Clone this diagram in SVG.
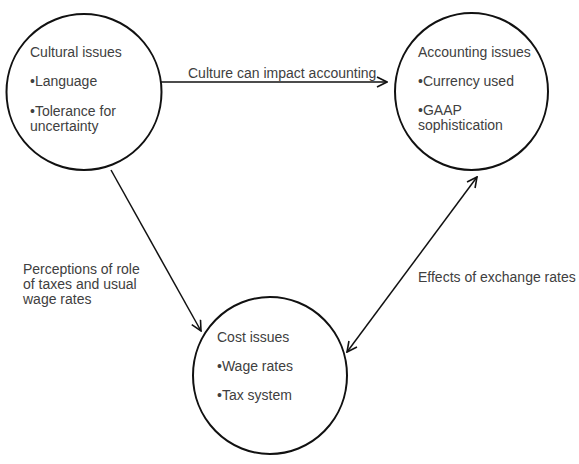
<svg xmlns="http://www.w3.org/2000/svg" width="579" height="464" viewBox="0 0 579 464">
  <style>
    .node { fill: #ffffff; stroke: #111111; stroke-width: 2; }
    .txt { font-family: "Liberation Sans", Arial, sans-serif; font-size: 14px; fill: #404040; }
    .conn { stroke: #111111; stroke-width: 1.5; fill: none; }
  </style>
  <defs>
    <marker id="arrow" viewBox="0 0 12 12" refX="11" refY="6" markerWidth="12" markerHeight="12" markerUnits="userSpaceOnUse" orient="auto-start-reverse">
      <path d="M1,1 L11,6 L1,11" fill="none" stroke="#111111" stroke-width="1.6"/>
    </marker>
  </defs>
  <rect width="579" height="464" fill="#ffffff"/>

  <g id="cultural">
    <ellipse class="node" cx="84" cy="92" rx="77.5" ry="78"/>
    <text class="txt" x="30" y="57">Cultural issues</text>
    <text class="txt" x="30" y="86">•Language</text>
    <text class="txt" x="30" y="116">•Tolerance for</text>
    <text class="txt" x="30" y="131">uncertainty</text>
  </g>

  <g id="accounting">
    <ellipse class="node" cx="471.5" cy="91.5" rx="76.5" ry="78.5"/>
    <text class="txt" x="418" y="57">Accounting issues</text>
    <text class="txt" x="418" y="86">•Currency used</text>
    <text class="txt" x="418" y="115">•GAAP</text>
    <text class="txt" x="418" y="130">sophistication</text>
  </g>

  <g id="cost">
    <ellipse class="node" cx="270" cy="375.5" rx="77" ry="78.5"/>
    <text class="txt" x="217" y="342">Cost issues</text>
    <text class="txt" x="217" y="371">•Wage rates</text>
    <text class="txt" x="217" y="400">•Tax system</text>
  </g>

  <g id="connectors">
    <line class="conn" x1="161" y1="82" x2="387" y2="82" marker-end="url(#arrow)"/>
    <line class="conn" x1="111" y1="170" x2="201" y2="331" marker-end="url(#arrow)"/>
    <line class="conn" x1="347" y1="352" x2="477" y2="177" marker-start="url(#arrow)" marker-end="url(#arrow)"/>
    <text class="txt" x="188" y="78">Culture can impact accounting</text>
    <text class="txt" x="23" y="274">Perceptions of role</text>
    <text class="txt" x="23" y="289">of taxes and usual</text>
    <text class="txt" x="23" y="304">wage rates</text>
    <text class="txt" x="418" y="282">Effects of exchange rates</text>
  </g>
</svg>
